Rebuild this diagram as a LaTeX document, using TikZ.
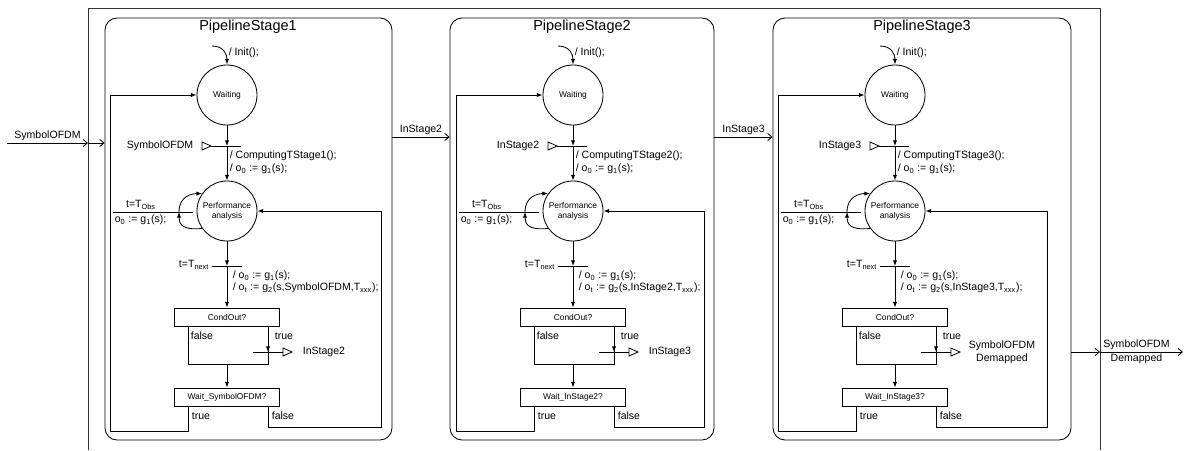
\documentclass[tikz,border=0pt]{standalone}
\usepackage{fontspec}
\setmainfont{Liberation Sans}
\usetikzlibrary{arrows.meta,fit}
\newcommand{\lblfont}{\fontsize{7.5}{9}\selectfont}
\newcommand{\smlfont}{\fontsize{6}{7}\selectfont}
\newcommand{\stgfont}{\fontsize{10.3}{12}\selectfont}
\begin{document}
\begin{tikzpicture}[x=0.025cm, y=-0.025cm, line width=0.6pt, font=\lblfont,
  flow/.style={-{Latex[length=4pt,width=3pt]}},
  port/.style={-{Straight Barb[length=3pt,width=5pt]}},
  state/.style={draw, circle, minimum size=1.5cm, inner sep=0pt, align=center, font=\smlfont},
  cond/.style={draw, rectangle, minimum width=2.625cm, minimum height=0.45cm, inner sep=0pt, font=\smlfont},
  stagebox/.style={draw, rounded corners=0.3cm, inner sep=0pt},
  lbl/.style={inner sep=1pt, font=\lblfont}]
  \useasboundingbox (0,0) rectangle (1185,450);
  % Outer frame
  \draw[black!80] (88,450) -- (88,8) -- (1100,8) -- (1100,450);
  % Stage 1
  \node[stagebox, fit={(105,18) (392,440)}] (st1) {};
  \node[font=\stgfont, inner sep=0pt] (tt1) at (248,27) {PipelineStage1};
  \coordinate (i1) at (212,46);
  \node[state] (w1) at (227,95) {Waiting};
  \draw[flow] (i1) .. controls +(12,0) and +(0,-10) .. (w1.north);
  \node[lbl, anchor=west] (ia1) at (227,53) {/ Init();};
  \coordinate (t1) at (227,146);
  \draw (t1) ++(-16,0) -- ++(30,0);
  \draw (t1) ++(-25,-4) -- ++(9,4) -- ++(-9,4) -- cycle;
  \node[lbl, anchor=east] (x1) at (195,146) {SymbolOFDM};
  \node[state] (pa1) at (227,211) {Performance\\analysis};
  \draw[flow] (w1) -- (t1);
  \draw[flow] (t1) -- (pa1);
  \node[lbl, anchor=west] (ct1) at (228,156) {/ ComputingTStage1();};
  \node[lbl, anchor=west] (oa1) at (228,169) {/ o\textsubscript{0} := g\textsubscript{1}(s);};
  \coordinate (l1) at (179,212);
  \draw[flow] (pa1.215) .. controls +(-20,2) and +(0,12) .. (l1);
  \draw[flow] (l1) .. controls +(0,-16) and +(-10,0) .. (pa1.145);
  \coordinate (ob1) at (113,212);
  \draw (ob1) -- ++(80,0);
  \node[lbl, anchor=south] (to1) at (141,211) {t=T\textsubscript{Obs}};
  \node[lbl, anchor=north west] (oo1) at (113,213) {o\textsubscript{0} := g\textsubscript{1}(s);};
  \coordinate (n1) at (227,266);
  \draw (n1) ++(-15,0) -- ++(30,0);
  \node[lbl, anchor=east] (tn1) at (211,265) {t=T\textsubscript{next}};
  \node[lbl, anchor=west] (ob1a) at (231,276) {/ o\textsubscript{0} := g\textsubscript{1}(s);};
  \node[lbl, anchor=west] (ob1b) at (231,288) {/ o\textsubscript{t} := g\textsubscript{2}(s,SymbolOFDM,T\textsubscript{xxx});};
  \node[cond] (c1) at (227,317) {CondOut?};
  \draw[flow] (pa1) -- (n1);
  \draw[flow] (n1) -- (c1);
  \coordinate (f1) at (188,364);
  \coordinate (r1) at (268,364);
  \coordinate (q1) at (268,352);
  \draw (c1.south -| f1) -- (f1) -- (r1) -- (c1.south -| r1);
  \draw[flow] (c1.south -| r1) -- (q1);
  \draw (q1) ++(-15,0) -- ++(30,0);
  \draw (q1) ++(15,-4) -- ++(9,4) -- ++(-9,4) -- cycle;
  \node[lbl, anchor=west] (oq1) at (301,352) {InStage2};
  \node[lbl, anchor=west] (lf1) at (189,336) {false};
  \node[lbl, anchor=west] (lt1) at (273,336) {true};
  \node[cond] (wt1) at (227,397) {Wait\_SymbolOFDM?};
  \draw[flow] (f1 -| c1) -- (wt1);
  \node[lbl, anchor=west] (wy1) at (190,416) {true};
  \node[lbl, anchor=west] (wn1) at (270,416) {false};
  \coordinate (b1) at (110,431);
  \coordinate (g1) at (381,427);
  \draw[flow] (wt1.south -| f1) |- (b1) |- (w1);
  \draw[flow] (wt1.south -| r1) |- (g1) |- (pa1);
  % Stage 2
  \begin{scope}[shift={(346,0)}]
    \node[stagebox, fit={(104,18) (368,440)}] (st2) {};
    \node[font=\stgfont, inner sep=0pt] (tt2) at (236,27) {PipelineStage2};
    \coordinate (i2) at (212,46);
    \node[state] (w2) at (227,95) {Waiting};
    \draw[flow] (i2) .. controls +(12,0) and +(0,-10) .. (w2.north);
    \node[lbl, anchor=west] (ia2) at (227,53) {/ Init();};
    \coordinate (t2) at (227,146);
    \draw (t2) ++(-16,0) -- ++(30,0);
    \draw (t2) ++(-25,-4) -- ++(9,4) -- ++(-9,4) -- cycle;
    \node[lbl, anchor=east] (x2) at (195,146) {InStage2};
    \node[state] (pa2) at (227,211) {Performance\\analysis};
    \draw[flow] (w2) -- (t2);
    \draw[flow] (t2) -- (pa2);
    \node[lbl, anchor=west] (ct2) at (228,156) {/ ComputingTStage2();};
    \node[lbl, anchor=west] (oa2) at (228,169) {/ o\textsubscript{0} := g\textsubscript{1}(s);};
    \coordinate (l2) at (179,212);
    \draw[flow] (pa2.215) .. controls +(-20,2) and +(0,12) .. (l2);
    \draw[flow] (l2) .. controls +(0,-16) and +(-10,0) .. (pa2.145);
    \coordinate (ob2) at (113,212);
    \draw (ob2) -- ++(80,0);
    \node[lbl, anchor=south] (to2) at (141,211) {t=T\textsubscript{Obs}};
    \node[lbl, anchor=north west] (oo2) at (113,213) {o\textsubscript{0} := g\textsubscript{1}(s);};
    \coordinate (n2) at (227,266);
    \draw (n2) ++(-15,0) -- ++(30,0);
    \node[lbl, anchor=east] (tn2) at (211,265) {t=T\textsubscript{next}};
    \node[lbl, anchor=west] (ob2a) at (231,276) {/ o\textsubscript{0} := g\textsubscript{1}(s);};
    \node[lbl, anchor=west] (ob2b) at (231,288) {/ o\textsubscript{t} := g\textsubscript{2}(s,InStage2,T\textsubscript{xxx});};
    \node[cond] (c2) at (227,317) {CondOut?};
    \draw[flow] (pa2) -- (n2);
    \draw[flow] (n2) -- (c2);
    \coordinate (f2) at (188,364);
    \coordinate (r2) at (268,364);
    \coordinate (q2) at (268,352);
    \draw (c2.south -| f2) -- (f2) -- (r2) -- (c2.south -| r2);
    \draw[flow] (c2.south -| r2) -- (q2);
    \draw (q2) ++(-15,0) -- ++(30,0);
    \draw (q2) ++(15,-4) -- ++(9,4) -- ++(-9,4) -- cycle;
    \node[lbl, anchor=west] (oq2) at (301,352) {InStage3};
    \node[lbl, anchor=west] (lf2) at (189,336) {false};
    \node[lbl, anchor=west] (lt2) at (273,336) {true};
    \node[cond] (wt2) at (227,397) {Wait\_InStage2?};
    \draw[flow] (f2 -| c2) -- (wt2);
    \node[lbl, anchor=west] (wy2) at (190,416) {true};
    \node[lbl, anchor=west] (wn2) at (270,416) {false};
    \coordinate (b2) at (110,431);
    \coordinate (g2) at (358,427);
    \draw[flow] (wt2.south -| f2) |- (b2) |- (w2);
    \draw[flow] (wt2.south -| r2) |- (g2) |- (pa2);
  \end{scope}
  % Stage 3
  \begin{scope}[shift={(668,0)}]
    \node[stagebox, fit={(105,18) (403,440)}] (st3) {};
    \node[font=\stgfont, inner sep=0pt] (tt3) at (254,27) {PipelineStage3};
    \coordinate (i3) at (212,46);
    \node[state] (w3) at (227,95) {Waiting};
    \draw[flow] (i3) .. controls +(12,0) and +(0,-10) .. (w3.north);
    \node[lbl, anchor=west] (ia3) at (227,53) {/ Init();};
    \coordinate (t3) at (227,146);
    \draw (t3) ++(-16,0) -- ++(30,0);
    \draw (t3) ++(-25,-4) -- ++(9,4) -- ++(-9,4) -- cycle;
    \node[lbl, anchor=east] (x3) at (195,146) {InStage3};
    \node[state] (pa3) at (227,211) {Performance\\analysis};
    \draw[flow] (w3) -- (t3);
    \draw[flow] (t3) -- (pa3);
    \node[lbl, anchor=west] (ct3) at (228,156) {/ ComputingTStage3();};
    \node[lbl, anchor=west] (oa3) at (228,169) {/ o\textsubscript{0} := g\textsubscript{1}(s);};
    \coordinate (l3) at (179,212);
    \draw[flow] (pa3.215) .. controls +(-20,2) and +(0,12) .. (l3);
    \draw[flow] (l3) .. controls +(0,-16) and +(-10,0) .. (pa3.145);
    \coordinate (ob3) at (113,212);
    \draw (ob3) -- ++(80,0);
    \node[lbl, anchor=south] (to3) at (141,211) {t=T\textsubscript{Obs}};
    \node[lbl, anchor=north west] (oo3) at (113,213) {o\textsubscript{0} := g\textsubscript{1}(s);};
    \coordinate (n3) at (227,266);
    \draw (n3) ++(-15,0) -- ++(30,0);
    \node[lbl, anchor=east] (tn3) at (211,265) {t=T\textsubscript{next}};
    \node[lbl, anchor=west] (ob3a) at (231,276) {/ o\textsubscript{0} := g\textsubscript{1}(s);};
    \node[lbl, anchor=west] (ob3b) at (231,288) {/ o\textsubscript{t} := g\textsubscript{2}(s,InStage3,T\textsubscript{xxx});};
    \node[cond] (c3) at (227,317) {CondOut?};
    \draw[flow] (pa3) -- (n3);
    \draw[flow] (n3) -- (c3);
    \coordinate (f3) at (188,364);
    \coordinate (r3) at (268,364);
    \coordinate (q3) at (268,352);
    \draw (c3.south -| f3) -- (f3) -- (r3) -- (c3.south -| r3);
    \draw[flow] (c3.south -| r3) -- (q3);
    \draw (q3) ++(-15,0) -- ++(30,0);
    \draw (q3) ++(15,-4) -- ++(9,4) -- ++(-9,4) -- cycle;
    \node[lbl, anchor=west, align=center] (oq3) at (299,352) {SymbolOFDM\\Demapped};
    \node[lbl, anchor=west] (lf3) at (189,336) {false};
    \node[lbl, anchor=west] (lt3) at (273,336) {true};
    \node[cond] (wt3) at (227,397) {Wait\_InStage3?};
    \draw[flow] (f3 -| c3) -- (wt3);
    \node[lbl, anchor=west] (wy3) at (190,416) {true};
    \node[lbl, anchor=west] (wn3) at (270,416) {false};
    \coordinate (b3) at (110,431);
    \coordinate (g3) at (379,427);
    \draw[flow] (wt3.south -| f3) |- (b3) |- (w3);
    \draw[flow] (wt3.south -| r3) |- (g3) |- (pa3);
  \end{scope}
  % Ports between stages
  \coordinate (src) at (7,143);
  \coordinate (fl) at (88,143);
  \draw[port] (src) -- node[lbl, above] (lin) {SymbolOFDM} (fl);
  \draw[port] (fl) -- (st1.west |- fl);
  \coordinate (m12) at (420,137);
  \draw[port] (st1.east |- m12) -- node[lbl, above] (l12) {InStage2} (st2.west |- m12);
  \coordinate (m23) at (743,137);
  \draw[port] (st2.east |- m23) -- node[lbl, above] (l23) {InStage3} (st3.west |- m23);
  \coordinate (fr) at (1100,352);
  \coordinate (snk) at (1183,352);
  \draw[port] (st3.east |- fr) -- (fr);
  \draw[port] (fr) -- node[lbl, above, pos=0.44] (lout) {SymbolOFDM} node[lbl, below, pos=0.44] (lout2) {Demapped} (snk);
\end{tikzpicture}
\end{document}
